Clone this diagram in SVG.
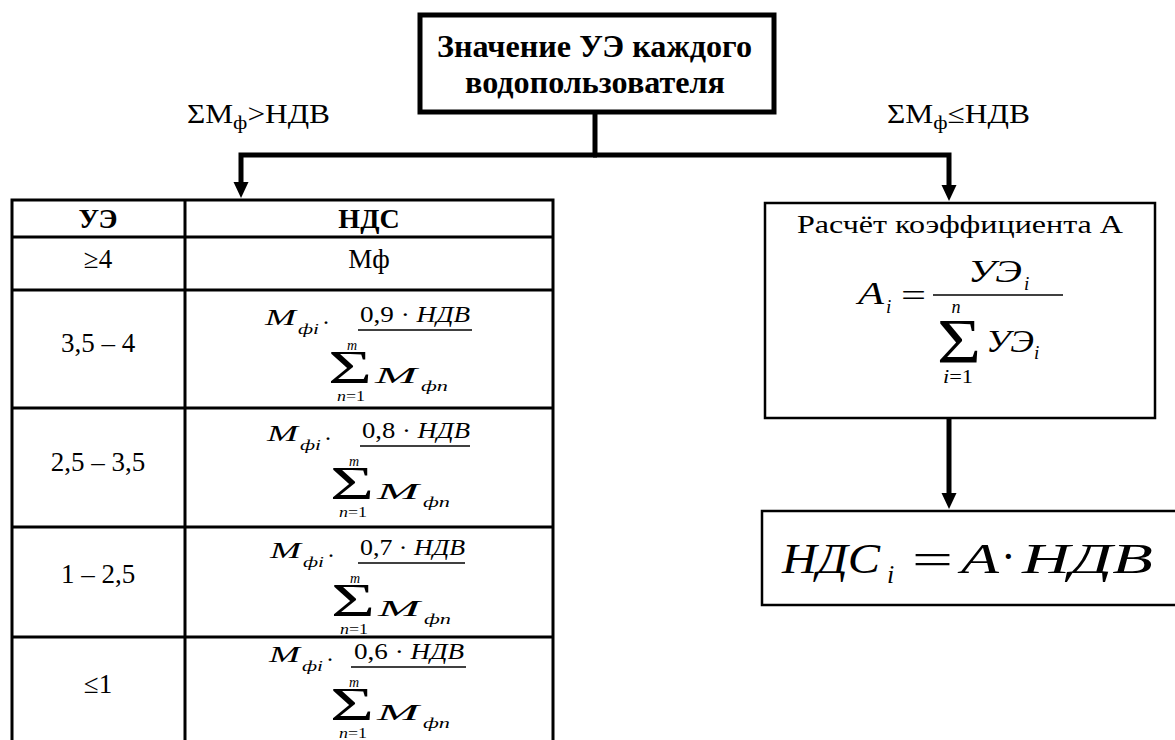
<svg xmlns="http://www.w3.org/2000/svg" width="1175" height="740" viewBox="0 0 1175 740">
<defs>
  <marker id="arr" markerUnits="userSpaceOnUse" viewBox="0 -8 16 16" markerWidth="16" markerHeight="16" refX="2" refY="0" orient="auto">
    <path d="M0,-7.5 L16,0 L0,7.5 Z" fill="#000"/>
  </marker>
</defs>
<rect width="1175" height="740" fill="#fff"/>

<g id="connectors" fill="none" stroke="#000" stroke-width="5">
  <path d="M595,112 V155"/>
  <path d="M597,155 H241 V184" marker-end="url(#arr)"/>
  <path d="M593,155 H949 V187" marker-end="url(#arr)"/>
  <path d="M949,418 V495" marker-end="url(#arr)"/>
</g>

<g id="label-gt">
  <text style="font-family:'Liberation Serif',serif !important" font-size="27" x="187" y="123" textLength="143" lengthAdjust="spacingAndGlyphs">ΣM<tspan font-size="19" dy="6">ф</tspan><tspan dy="-6">&gt;НДВ</tspan></text>
</g>
<g id="label-le">
  <text style="font-family:'Liberation Serif',serif !important" font-size="27" x="887" y="123" textLength="143" lengthAdjust="spacingAndGlyphs">ΣM<tspan font-size="19" dy="6">ф</tspan><tspan dy="-6">≤НДВ</tspan></text>
</g>

<g id="node-top">
  <rect x="420" y="15" width="354" height="97" fill="#fff" stroke="#000" stroke-width="5"/>
  <text style="font-family:'Liberation Serif',serif !important" font-size="31" font-weight="bold" x="437" y="57" textLength="315" lengthAdjust="spacingAndGlyphs">Значение УЭ каждого</text>
  <text style="font-family:'Liberation Serif',serif !important" font-size="31" font-weight="bold" x="465" y="93" textLength="260" lengthAdjust="spacingAndGlyphs">водопользователя</text>
</g>

<g id="node-table">
  <path d="M12,742 V200 H553 V742 M185,200 V742 M12,237 H553 M12,290 H553 M12,408 H553 M12,527 H553 M12,637 H553" fill="none" stroke="#000" stroke-width="3"/>
  <text style="font-family:'Liberation Serif',serif !important" font-size="28" font-weight="bold" x="98" y="228" text-anchor="middle">УЭ</text>
  <text style="font-family:'Liberation Serif',serif !important" font-size="28" font-weight="bold" x="369" y="228" text-anchor="middle">НДС</text>
  <text style="font-family:'Liberation Serif',serif !important" font-size="27" x="98" y="268" text-anchor="middle">≥4</text>
  <text style="font-family:'Liberation Serif',serif !important" font-size="27" x="369" y="268" text-anchor="middle">Мф</text>
  <text style="font-family:'Liberation Serif',serif !important" font-size="27" x="98" y="352" text-anchor="middle">3,5 – 4</text>
  <text style="font-family:'Liberation Serif',serif !important" font-size="27" x="98" y="471" text-anchor="middle">2,5 – 3,5</text>
  <text style="font-family:'Liberation Serif',serif !important" font-size="27" x="98" y="583" text-anchor="middle">1 – 2,5</text>
  <text style="font-family:'Liberation Serif',serif !important" font-size="27" x="98" y="693" text-anchor="middle">≤1</text>

  <g id="f1" transform="translate(0,330)">
    <text style="font-family:'Liberation Serif',serif !important" font-style="italic" font-size="23" x="265" y="-5" textLength="31" lengthAdjust="spacingAndGlyphs">M</text>
    <text style="font-family:'Liberation Serif',serif !important" font-style="italic" font-size="15" x="298" y="4" textLength="21" lengthAdjust="spacingAndGlyphs">фi</text>
    <text style="font-family:'Liberation Serif',serif !important" font-size="24" x="322" y="0">·</text>
    <text style="font-family:'Liberation Serif',serif !important" font-size="24" x="360" y="-8" textLength="110" lengthAdjust="spacingAndGlyphs">0,9 · <tspan font-style="italic">НДВ</tspan></text>
    <line x1="358" y1="0" x2="472" y2="0" stroke="#000" stroke-width="1.3"/>
    <text style="font-family:'Liberation Serif',serif !important" font-style="italic" font-size="14" x="352" y="20" text-anchor="middle">m</text>
    <text style="font-family:'Liberation Serif',serif !important" font-size="47" x="328" y="53" textLength="44" lengthAdjust="spacingAndGlyphs">Σ</text>
    <text style="font-family:'Liberation Serif',serif !important" font-style="italic" font-size="23" x="375" y="53" textLength="42" lengthAdjust="spacingAndGlyphs">M</text>
    <text style="font-family:'Liberation Serif',serif !important" font-style="italic" font-size="15" x="421" y="61" textLength="27" lengthAdjust="spacingAndGlyphs">фn</text>
    <text style="font-family:'Liberation Serif',serif !important" font-size="14" x="337" y="71" textLength="28" lengthAdjust="spacingAndGlyphs"><tspan font-style="italic">n</tspan>=1</text>
  </g>
  <g id="f2" transform="translate(2,446)">
    <text style="font-family:'Liberation Serif',serif !important" font-style="italic" font-size="23" x="265" y="-5" textLength="31" lengthAdjust="spacingAndGlyphs">M</text>
    <text style="font-family:'Liberation Serif',serif !important" font-style="italic" font-size="15" x="298" y="4" textLength="21" lengthAdjust="spacingAndGlyphs">фi</text>
    <text style="font-family:'Liberation Serif',serif !important" font-size="24" x="322" y="0">·</text>
    <text style="font-family:'Liberation Serif',serif !important" font-size="24" x="360" y="-8" textLength="108" lengthAdjust="spacingAndGlyphs">0,8 · <tspan font-style="italic">НДВ</tspan></text>
    <line x1="358" y1="0" x2="468" y2="0" stroke="#000" stroke-width="1.3"/>
    <text style="font-family:'Liberation Serif',serif !important" font-style="italic" font-size="14" x="352" y="20" text-anchor="middle">m</text>
    <text style="font-family:'Liberation Serif',serif !important" font-size="47" x="328" y="53" textLength="44" lengthAdjust="spacingAndGlyphs">Σ</text>
    <text style="font-family:'Liberation Serif',serif !important" font-style="italic" font-size="23" x="375" y="53" textLength="42" lengthAdjust="spacingAndGlyphs">M</text>
    <text style="font-family:'Liberation Serif',serif !important" font-style="italic" font-size="15" x="421" y="61" textLength="27" lengthAdjust="spacingAndGlyphs">фn</text>
    <text style="font-family:'Liberation Serif',serif !important" font-size="14" x="337" y="71" textLength="28" lengthAdjust="spacingAndGlyphs"><tspan font-style="italic">n</tspan>=1</text>
  </g>
  <g id="f3" transform="translate(5,563)">
    <text style="font-family:'Liberation Serif',serif !important" font-style="italic" font-size="23" x="265" y="-5" textLength="31" lengthAdjust="spacingAndGlyphs">M</text>
    <text style="font-family:'Liberation Serif',serif !important" font-style="italic" font-size="15" x="298" y="4" textLength="21" lengthAdjust="spacingAndGlyphs">фi</text>
    <text style="font-family:'Liberation Serif',serif !important" font-size="24" x="322" y="0">·</text>
    <text style="font-family:'Liberation Serif',serif !important" font-size="24" x="355" y="-8" textLength="105" lengthAdjust="spacingAndGlyphs">0,7 · <tspan font-style="italic">НДВ</tspan></text>
    <line x1="353" y1="0" x2="460" y2="0" stroke="#000" stroke-width="1.3"/>
    <text style="font-family:'Liberation Serif',serif !important" font-style="italic" font-size="14" x="350" y="20" text-anchor="middle">m</text>
    <text style="font-family:'Liberation Serif',serif !important" font-size="47" x="326" y="53" textLength="44" lengthAdjust="spacingAndGlyphs">Σ</text>
    <text style="font-family:'Liberation Serif',serif !important" font-style="italic" font-size="23" x="373" y="53" textLength="42" lengthAdjust="spacingAndGlyphs">M</text>
    <text style="font-family:'Liberation Serif',serif !important" font-style="italic" font-size="15" x="419" y="61" textLength="27" lengthAdjust="spacingAndGlyphs">фn</text>
    <text style="font-family:'Liberation Serif',serif !important" font-size="14" x="335" y="71" textLength="28" lengthAdjust="spacingAndGlyphs"><tspan font-style="italic">n</tspan>=1</text>
  </g>
  <g id="f4" transform="translate(4,667)">
    <text style="font-family:'Liberation Serif',serif !important" font-style="italic" font-size="23" x="265" y="-5" textLength="31" lengthAdjust="spacingAndGlyphs">M</text>
    <text style="font-family:'Liberation Serif',serif !important" font-style="italic" font-size="15" x="298" y="4" textLength="21" lengthAdjust="spacingAndGlyphs">фi</text>
    <text style="font-family:'Liberation Serif',serif !important" font-size="24" x="322" y="0">·</text>
    <text style="font-family:'Liberation Serif',serif !important" font-size="24" x="350" y="-8" textLength="110" lengthAdjust="spacingAndGlyphs">0,6 · <tspan font-style="italic">НДВ</tspan></text>
    <line x1="347" y1="0" x2="462" y2="0" stroke="#000" stroke-width="1.3"/>
    <text style="font-family:'Liberation Serif',serif !important" font-style="italic" font-size="14" x="350" y="20" text-anchor="middle">m</text>
    <text style="font-family:'Liberation Serif',serif !important" font-size="47" x="326" y="53" textLength="44" lengthAdjust="spacingAndGlyphs">Σ</text>
    <text style="font-family:'Liberation Serif',serif !important" font-style="italic" font-size="23" x="373" y="53" textLength="42" lengthAdjust="spacingAndGlyphs">M</text>
    <text style="font-family:'Liberation Serif',serif !important" font-style="italic" font-size="15" x="419" y="61" textLength="27" lengthAdjust="spacingAndGlyphs">фn</text>
    <text style="font-family:'Liberation Serif',serif !important" font-size="14" x="335" y="71" textLength="28" lengthAdjust="spacingAndGlyphs"><tspan font-style="italic">n</tspan>=1</text>
  </g>
</g>

<g id="node-coef">
  <rect x="765" y="203" width="390" height="215" fill="#fff" stroke="#000" stroke-width="2.5"/>
  <text style="font-family:'Liberation Serif',serif !important" font-size="25" x="797" y="233" textLength="326" lengthAdjust="spacingAndGlyphs">Расчёт коэффициента А</text>
  <text style="font-family:'Liberation Serif',serif !important" font-style="italic" font-size="32" x="858" y="304" textLength="26" lengthAdjust="spacingAndGlyphs">A</text>
  <text style="font-family:'Liberation Serif',serif !important" font-style="italic" font-size="19" x="886" y="313">i</text>
  <text style="font-family:'Liberation Serif',serif !important" font-size="32" x="901" y="306" textLength="25" lengthAdjust="spacingAndGlyphs">=</text>
  <line x1="933" y1="295" x2="1063" y2="295" stroke="#000" stroke-width="1.3"/>
  <text style="font-family:'Liberation Serif',serif !important" font-style="italic" font-size="32" x="968" y="282" textLength="54" lengthAdjust="spacingAndGlyphs">УЭ</text>
  <text style="font-family:'Liberation Serif',serif !important" font-style="italic" font-size="19" x="1024" y="290">i</text>
  <text style="font-family:'Liberation Serif',serif !important" font-style="italic" font-size="18" x="956" y="313" text-anchor="middle">n</text>
  <text style="font-family:'Liberation Serif',serif !important" font-size="64" x="937" y="363" textLength="44" lengthAdjust="spacingAndGlyphs">Σ</text>
  <text style="font-family:'Liberation Serif',serif !important" font-style="italic" font-size="32" x="986" y="352" textLength="48" lengthAdjust="spacingAndGlyphs">УЭ</text>
  <text style="font-family:'Liberation Serif',serif !important" font-style="italic" font-size="19" x="1034" y="359">i</text>
  <text style="font-family:'Liberation Serif',serif !important" font-size="18" x="943" y="383" textLength="30" lengthAdjust="spacingAndGlyphs"><tspan font-style="italic">i</tspan>=1</text>
</g>

<g id="node-result">
  <rect x="762" y="511" width="420" height="94" fill="#fff" stroke="#000" stroke-width="2.5"/>
  <text style="font-family:'Liberation Serif',serif !important" font-style="italic" font-size="43" x="782" y="573" textLength="98" lengthAdjust="spacingAndGlyphs">НДС</text>
  <text style="font-family:'Liberation Serif',serif !important" font-style="italic" font-size="26" x="887" y="583">i</text>
  <text style="font-family:'Liberation Serif',serif !important" font-size="44" x="912" y="574" textLength="41" lengthAdjust="spacingAndGlyphs">=</text>
  <text style="font-family:'Liberation Serif',serif !important" font-style="italic" font-size="43" x="961" y="573" textLength="38" lengthAdjust="spacingAndGlyphs">A</text>
  <text style="font-family:'Liberation Serif',serif !important" font-size="44" x="1001" y="571">·</text>
  <text style="font-family:'Liberation Serif',serif !important" font-style="italic" font-size="43" x="1022" y="573" textLength="131" lengthAdjust="spacingAndGlyphs">НДВ</text>
</g>
</svg>
